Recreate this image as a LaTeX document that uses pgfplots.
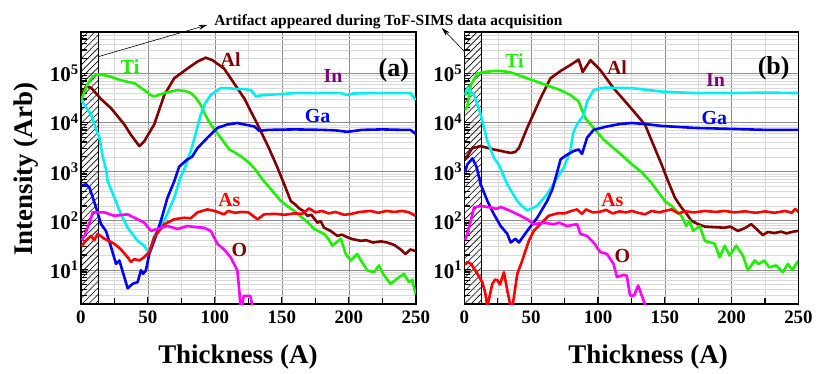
\documentclass[border=0pt]{standalone}
\usepackage{fontspec}
\setmainfont{Liberation Serif}
\usepackage{pgfplots}
\pgfplotsset{compat=1.18}
\usetikzlibrary{patterns,arrows.meta}

\definecolor{alc}{RGB}{128,0,0}
\definecolor{tic}{RGB}{30,240,0}
\definecolor{inc}{RGB}{0,240,240}
\definecolor{inlab}{RGB}{128,0,128}
\definecolor{gac}{RGB}{0,0,255}
\definecolor{asc}{RGB}{255,0,0}
\definecolor{oc}{RGB}{255,0,255}

% sparse diagonal hatch for the artifact zone
\pgfdeclarepatternformonly{sparse hatch}{\pgfqpoint{-1pt}{-1pt}}{\pgfqpoint{7.5pt}{7.5pt}}{\pgfqpoint{6.5pt}{6.5pt}}{%
  \pgfsetlinewidth{0.6pt}%
  \pgfpathmoveto{\pgfqpoint{0pt}{0pt}}%
  \pgfpathlineto{\pgfqpoint{6.6pt}{6.6pt}}%
  \pgfusepath{stroke}}

\tikzset{curvelab/.style={font=\bfseries\fontsize{20}{20}\selectfont}}

\begin{document}
\begin{tikzpicture}

% ---------------- panel (a) ----------------
\begin{axis}[
  scale only axis, width=336pt, height=273pt,
  at={(81pt,65pt)}, anchor=south west,
  xmin=0, xmax=250, ymode=log, ymin=2, ymax=7e5,
  tick pos=left, tick align=inside,
  xtick={0,50,100,150,200,250}, minor xtick={25,75,125,175,225},
  xticklabels={0,50,100,150,200,250},
  ytick={10,100,1000,10000,100000},
  yticklabels={10\textsuperscript{1},10\textsuperscript{2},10\textsuperscript{3},10\textsuperscript{4},10\textsuperscript{5}},
  minor ytick={2,3,4,5,6,7,8,9,20,30,40,50,60,70,80,90,200,300,400,500,600,700,800,900,2000,3000,4000,5000,6000,7000,8000,9000,20000,30000,40000,50000,60000,70000,80000,90000,200000,300000,400000,500000,600000},
  grid=both,
  major grid style={draw=black!45, line width=0.5pt},
  minor grid style={draw=black!15, line width=0.5pt},
  axis line style={line width=1.8pt},
  major tick length=7pt, minor tick length=6pt,
  major tick style={black, line width=1.3pt},
  minor tick style={black, line width=1.3pt},
  tick label style={font=\bfseries\fontsize{19}{19}\selectfont},
  xticklabel style={yshift=-3pt},
  yticklabel style={inner sep=2pt, font=\bfseries\fontsize{21}{21}\selectfont},
  label style={font=\bfseries\fontsize{27}{27}\selectfont},
  every axis plot/.append style={line width=2.6pt, line join=round},
  xlabel={Thickness (A)},
  xlabel style={at={(axis description cs:0.469,0)}, anchor=base, yshift=-60pt},
  ylabel={Intensity (Arb)},
  ylabel style={at={(axis description cs:-0.143,0.495)}, anchor=base},
]
\fill[pattern=sparse hatch] (axis cs:0,2) rectangle (axis cs:13,7e5);
\draw[line width=0.9pt] (axis cs:13,2) -- (axis cs:13,7e5);

% Al
\addplot[alc, mark=none] coordinates {
(0.5,35500)(4,55000)(8,50100)(15,30200)(22.6,19500)(32.5,9120)(37.4,5620)(43.7,3310)
(47.4,4170)(54.8,9120)(62.3,36300)(69.7,79400)(79.6,126000)(87.1,174000)(93.2,209000)
(98.2,186000)(106.9,126000)(116.8,50100)(122,30900)(125.5,20000)(131.9,9120)(140,3160)
(146.8,1200)(151.8,550)(156.7,251)(160,214)(163,178)(166,158)(169,126)(172,132)
(176.6,91)(179,98)(181.5,72)(186,63)(191.5,49)(195,52)(198.9,46)(203,42)(208.8,39)
(213,40)(218,36)(224,38)(228.6,36)(234,32)(238.6,26)(242.3,21)(246,26)(249.8,24)};
% Ti
\addplot[tic, mark=none] coordinates {
(0.5,28200)(1,31600)(5,60300)(9,87100)(12.6,95500)(18,91200)(22.6,85100)(30,72400)
(40,63100)(47.4,45700)(52,36300)(54.8,33900)(58,36300)(62.3,39800)(72.2,45700)(78,43700)
(82.1,39800)(86,31600)(89.5,22900)(93,14100)(97,9120)(104.4,4900)(110.9,2820)(114.4,2510)
(120,2000)(125.7,1510)(130,1120)(135.6,692)(141.9,437)(149.3,251)(154,200)(159.2,158)
(166.7,107)(170,89)(174.1,68)(181.5,54)(185,42)(187.7,31)(194,43)(197.7,21)(201.4,15.5)
(206.3,21)(210,14)(213.8,9.8)(218.8,8.9)(222.5,12.3)(226,7.9)(231.2,5.2)(236,6.6)
(241.1,8.3)(244.8,5.6)(247.3,6.3)(249.8,3.2)};
% In
\addplot[inc, mark=none] coordinates {
(0.5,28200)(2.7,22900)(7.7,14500)(11,7940)(13.9,4900)(16.4,2000)(18.8,1120)(20.1,631)
(25.1,295)(30,135)(35,72)(42.4,39)(47.4,31)(49.5,25)(51.1,23)(54.8,49)(62.3,100)
(69.7,295)(74,708)(78,1260)(82.1,2630)(86,6310)(89.5,14500)(93,25100)(97,36300)
(104.4,50100)(110,50100)(116.8,47900)(122,47900)(127,45700)(130.7,33900)(134,35500)
(136.9,36300)(150,38000)(159.2,39800)(175,39800)(194,39800)(199,36300)(203,38900)
(220,39800)(235,39800)(246,39800)(249.8,28800)};
% Ga
\addplot[gac, mark=none] coordinates {
(0.5,525)(4,550)(6.5,468)(11.4,186)(15.1,85)(18.8,62)(22.6,29)(26.3,13.2)(28.8,15.5)
(32.5,7.1)(35,4.2)(38.7,5.2)(42.4,5.6)(44.9,9.8)(46.5,8.3)(48.6,9.8)(51.1,21)(54.8,39)
(59.8,100)(64.7,295)(69.7,631)(73.4,1260)(79.6,1780)(83,2000)(87.1,3020)(94.5,4900)
(101.9,7760)(109.4,9120)(116.8,9770)(122,9120)(129.5,8320)(133.2,6760)(140,7080)
(160,7240)(180,7080)(190,6920)(198.9,6460)(210,7080)(225,7240)(240,7080)(246,7080)(249.8,5890)};
% As
\addplot[asc, mark=none] coordinates {
(0.5,30)(2.7,36)(5,42)(7.7,49)(10,40)(12.6,54)(17.6,43)(25,34)(30,26)(35,18)(37.5,14.5)
(40,16.6)(43.7,15.5)(47,17.8)(51.1,23)(54.8,46)(62.3,85)(69.7,107)(77.2,115)(82,112)
(87.1,148)(94.5,170)(100,158)(106.9,135)(110,158)(115,145)(120,151)(125,148)(131.9,107)
(136.9,135)(145,138)(152,132)(159.2,141)(165,138)(170.4,178)(175,148)(180,158)(185,141)
(190,151)(196.4,132)(202,138)(208,151)(216.3,158)(222,145)(228,158)(234,151)(240,158)
(245,148)(249.8,126)};
% O
\addplot[oc, mark=none] coordinates {
(0.5,40)(2.7,49)(6.5,91)(8.9,148)(17.6,148)(25,126)(35,135)(42.4,107)(47.4,91)(52.3,62)
(57,68)(64.7,78)(72.2,68)(79.6,78)(86,74)(92,72)(97,62)(101.9,34)(106.9,26)(111.8,18)
(116.8,9.8)(118.5,3.2)(119.5,1.2)(121.5,2.95)(126.5,2.95)(129.5,1.2)(131,1)};

\node[curvelab, text=tic] at (axis cs:36.8,1.36e5) {Ti};
\node[curvelab, text=alc] at (axis cs:111.8,1.9e5) {Al};
\node[curvelab, text=inlab] at (axis cs:188.2,8.9e4) {In};
\node[curvelab, text=gac] at (axis cs:176.7,1.36e4) {Ga};
\node[curvelab, text=asc] at (axis cs:110.9,270) {As};
\node[curvelab, text=alc] at (axis cs:118.3,24.8) {O};
\node[font=\bfseries\fontsize{26}{26}\selectfont] at (axis cs:233.6,1.17e5) {(a)};
\end{axis}

% ---------------- panel (b) ----------------
\begin{axis}[
  scale only axis, width=335pt, height=273pt,
  at={(465.7pt,65pt)}, anchor=south west,
  xmin=0, xmax=250, ymode=log, ymin=2, ymax=7e5,
  tick pos=left, tick align=inside,
  xtick={0,50,100,150,200,250}, minor xtick={25,75,125,175,225},
  xticklabels={0,50,100,150,200,250},
  ytick={10,100,1000,10000,100000},
  yticklabels={10\textsuperscript{1},10\textsuperscript{2},10\textsuperscript{3},10\textsuperscript{4},10\textsuperscript{5}},
  minor ytick={2,3,4,5,6,7,8,9,20,30,40,50,60,70,80,90,200,300,400,500,600,700,800,900,2000,3000,4000,5000,6000,7000,8000,9000,20000,30000,40000,50000,60000,70000,80000,90000,200000,300000,400000,500000,600000},
  grid=both,
  major grid style={draw=black!45, line width=0.5pt},
  minor grid style={draw=black!15, line width=0.5pt},
  axis line style={line width=1.8pt},
  major tick length=7pt, minor tick length=6pt,
  major tick style={black, line width=1.3pt},
  minor tick style={black, line width=1.3pt},
  tick label style={font=\bfseries\fontsize{19}{19}\selectfont},
  xticklabel style={yshift=-3pt},
  yticklabel style={inner sep=2pt, font=\bfseries\fontsize{21}{21}\selectfont},
  label style={font=\bfseries\fontsize{27}{27}\selectfont},
  every axis plot/.append style={line width=2.6pt, line join=round},
  xlabel={Thickness (A)},
  xlabel style={at={(axis description cs:0.55,0)}, anchor=base, yshift=-60pt},
]
\fill[pattern=sparse hatch] (axis cs:0,2) rectangle (axis cs:13,7e5);
\draw[line width=0.9pt] (axis cs:13,2) -- (axis cs:13,7e5);

% Al
\addplot[alc, mark=none] coordinates {
(0.5,1780)(2.2,2090)(6,3020)(12.2,3310)(22.1,2820)(34.6,2400)(38,2510)(40.8,3020)(47,7760)
(56.9,30900)(64.4,79400)(71.9,112000)(79.3,148000)(85.5,191000)(88.5,107000)(94.3,186000)
(101.7,117000)(111.6,50100)(121.6,24500)(135.1,9120)(147.5,1410)(152.5,631)(157.5,295)
(162.4,186)(166,141)(169.9,100)(174.9,85)(179.9,76)(187,74)(194.8,72)(199,76)(204.7,62)
(210,71)(214.6,85)(219,66)(223.4,51)(227,59)(232,56)(237,60)(241,55)(246,60)(250,62)};
% Ti
\addplot[tic, mark=none] coordinates {
(0.5,17800)(2.2,21400)(4.7,57500)(9.7,100000)(15,107000)(22.1,112000)(28,112000)
(34.6,105000)(47,79400)(59.4,60300)(71.9,45700)(79.3,36300)(85.5,26900)(88,17800)
(90.5,12300)(96.7,7760)(104.2,4470)(114.2,2630)(125.4,1410)(133,955)(140,589)(150,251)
(155,200)(162.4,126)(166.1,78)(168.5,100)(171.1,62)(176.1,78)(179.9,39)(187.3,34)
(191,18)(194.8,31)(198.5,19.5)(203.4,31)(208.4,19.5)(212.2,9.8)(217.2,15.5)(220,13.2)
(224.6,15.5)(228,11.2)(233.3,12.3)(238.3,8.9)(242,13.2)(245.5,10)(250,15.5)};
% In
\addplot[inc, mark=none] coordinates {
(0.5,35500)(2.2,50100)(7.2,36300)(12.2,14500)(17.2,4170)(22.1,1910)(25.8,1380)(32.1,550)
(39.6,251)(43,200)(47,162)(54.5,200)(61.9,347)(69.4,741)(74.3,1200)(79.3,2630)(81.5,6310)
(84.3,9120)(89.3,14500)(91.8,26900)(96.7,45700)(104.2,51300)(125.4,50100)(147.5,42700)
(172.4,39800)(200,39800)(225,40700)(250,39800)};
% Ga
\addplot[gac, mark=none] coordinates {
(0.5,1000)(2.2,1410)(6,1860)(9,1260)(12.2,550)(17.2,251)(22.1,135)(27.1,78)(32.1,54)
(34.6,36)(38.3,43)(40.8,36)(47,62)(54.5,115)(61.9,251)(66,447)(69.5,1000)(72,1780)
(76,2140)(81.8,2630)(85.5,2820)(88,2290)(91.8,4900)(96.7,7080)(106.7,8320)(116.6,9330)
(125.4,9770)(135,9330)(147.5,8510)(172.4,7760)(200,7410)(225,7080)(250,7080)};
% As
\addplot[asc, mark=none] coordinates {
(0.5,12.6)(2.2,14.5)(5,13.2)(9.7,8.3)(13.4,5.6)(15.5,3.5)(17.2,1.8)(20.9,5.2)(23,6.3)
(24.6,6.2)(26.6,5)(29.6,8.9)(32.1,3.8)(34.6,1.8)(36,1.8)(39.6,8.3)(43.3,15.5)(48.2,39)
(51.9,62)(56.9,85)(63.1,126)(69.4,141)(75,141)(80,158)(84.3,170)(88,138)(91,170)(96,148)
(101,151)(106,166)(111,141)(116,155)(121,148)(125.4,158)(130,145)(135.1,135)(140,158)
(146,148)(150,158)(155,170)(160,141)(165,155)(172,148)(180,158)(188,151)(195,158)
(202,148)(210,155)(218,145)(225,155)(232,145)(240,158)(245,145)(247.5,174)(250,151)};
% O
\addplot[oc, mark=none] coordinates {
(0.5,40)(2.2,54)(4.7,100)(7.2,186)(12.2,200)(19.6,186)(24,174)(27.1,191)(34.6,158)
(42,126)(47,107)(51.9,85)(59.4,91)(66.9,85)(71,91)(76.9,78)(84.3,85)(86.8,54)(91.8,49)
(96.7,36)(101.7,23)(106.7,21)(111.6,13.2)(114.2,7.1)(119,7.9)(121.5,7.6)(124,3)(127,3)
(130,4.8)(135,2)(137,1.1)};

\node[curvelab, text=tic] at (axis cs:37.5,1.86e5) {Ti};
\node[curvelab, text=alc] at (axis cs:114.2,1.33e5) {Al};
\node[curvelab, text=inlab] at (axis cs:187.9,7.2e4) {In};
\node[curvelab, text=gac] at (axis cs:187,1.26e4) {Ga};
\node[curvelab, text=asc] at (axis cs:110.7,270) {As};
\node[curvelab, text=alc] at (axis cs:118.3,19.5) {O};
\node[font=\bfseries\fontsize{26}{26}\selectfont] at (axis cs:231.4,1.26e5) {(b)};
\end{axis}

% annotation for the artifact zone
\node[anchor=base, font=\bfseries\fontsize{15.5}{15.5}\selectfont] at (389.5pt,344pt)
  {Artifact appeared during ToF-SIMS data acquisition};
\draw[line width=0.6pt, -{Stealth[length=9pt,width=5pt]}] (98pt,313pt) -- (208pt,345pt);
\draw[line width=0.6pt, -{Stealth[length=9pt,width=5pt]}] (465pt,319pt) -- (443pt,342pt);
\path (0pt,0pt) rectangle (816pt,370pt);
\end{tikzpicture}
\end{document}
